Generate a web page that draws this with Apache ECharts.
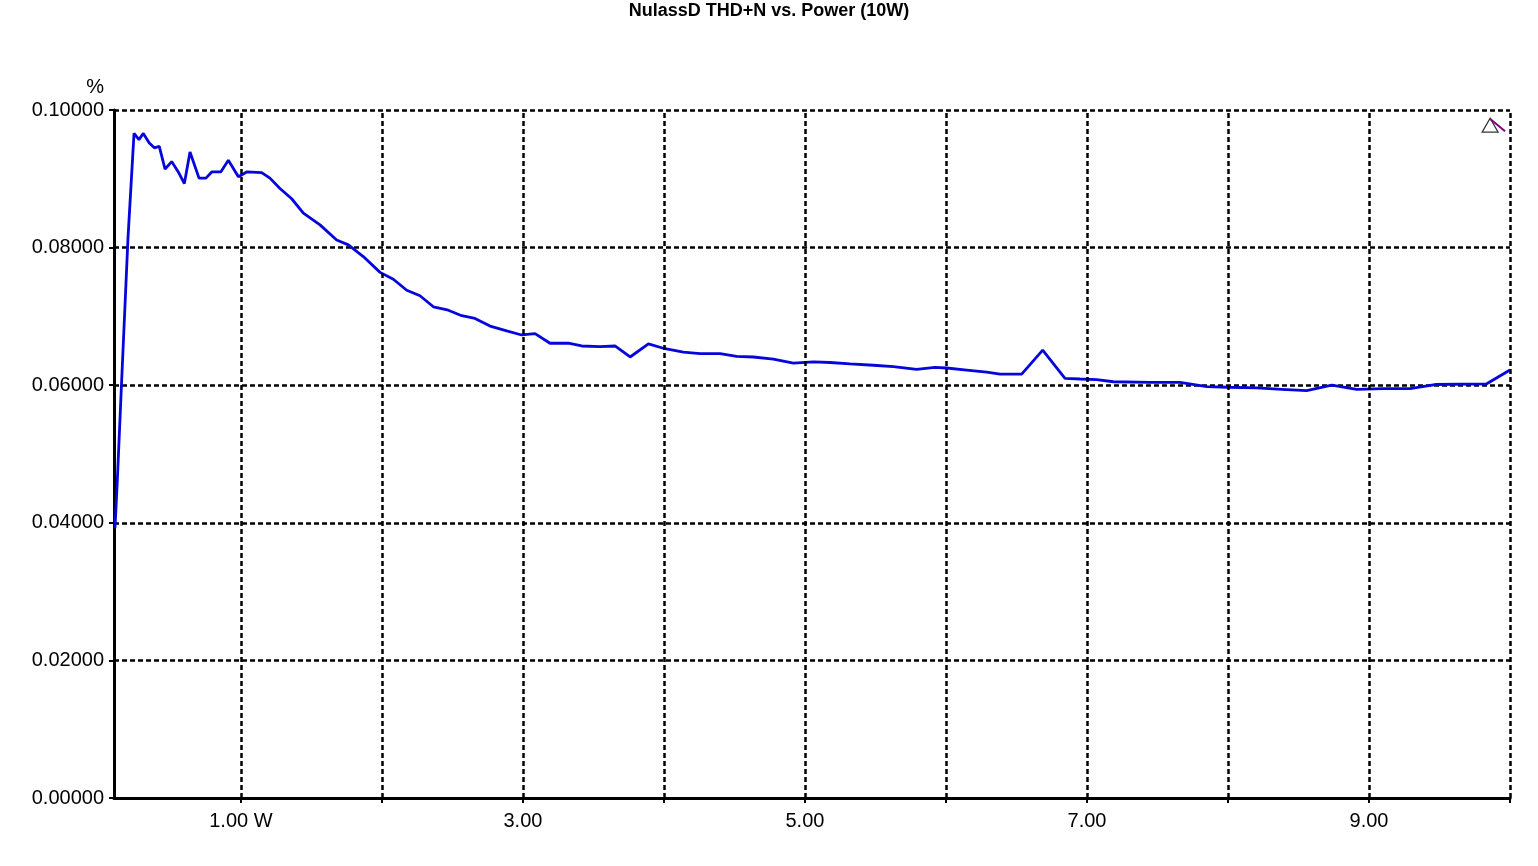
<!DOCTYPE html>
<html>
<head>
<meta charset="utf-8">
<style>
html,body{margin:0;padding:0;background:#fff;}
#c{width:1538px;height:866px;}
</style>
<script src="https://cdn.jsdelivr.net/npm/echarts@6/dist/echarts.min.js"></script>
</head>
<body>
<div id="c"></div>
<script>
const titleText = 'NulassD THD+N vs. Power (10W)';
const powerW = [0.107,0.123,0.152,0.199,0.242,0.277,0.308,0.350,0.386,0.421,0.462,0.509,0.556,0.599,0.639,0.703,0.752,0.793,0.857,0.911,0.982,1.041,1.147,1.206,1.277,1.360,1.443,1.561,1.679,1.762,1.868,1.987,2.081,2.176,2.270,2.365,2.471,2.566,2.660,2.767,2.885,2.991,3.086,3.192,3.322,3.417,3.547,3.653,3.760,3.890,4.008,4.138,4.256,4.398,4.516,4.634,4.776,4.918,5.060,5.178,5.320,5.485,5.627,5.792,5.922,6.005,6.147,6.289,6.384,6.537,6.686,6.844,6.951,7.069,7.187,7.448,7.660,7.850,8.003,8.204,8.381,8.558,8.736,8.913,9.102,9.291,9.468,9.835,10.0];
const thdPct = [0.0392,0.0459,0.0596,0.0813,0.0966,0.0957,0.0966,0.0952,0.0945,0.0947,0.0914,0.0925,0.0910,0.0893,0.0939,0.0901,0.0901,0.0910,0.0910,0.0927,0.0903,0.0910,0.0909,0.0901,0.0886,0.0871,0.0850,0.0833,0.0811,0.0804,0.0787,0.0764,0.0754,0.0738,0.0730,0.0714,0.0709,0.0701,0.0697,0.0686,0.0679,0.0673,0.0675,0.0661,0.0661,0.0657,0.0656,0.0657,0.0641,0.0660,0.0653,0.0648,0.0646,0.0646,0.0642,0.0641,0.0638,0.0632,0.0634,0.0633,0.0631,0.0629,0.0627,0.0623,0.0626,0.0625,0.0622,0.0619,0.0616,0.0616,0.0651,0.0610,0.0609,0.0608,0.0605,0.0604,0.0604,0.0598,0.0597,0.0596,0.0594,0.0592,0.0600,0.0594,0.0595,0.0595,0.0601,0.0602,0.0622];
const xGridValues = [1,2,3,4,5,6,7,8,9,10];
const xLabelValues = [1,3,5,7,9];
const cursorPoint = [9.859, 0.0978];
const cursorLine = [[9.86, 0.0987],[9.965, 0.0969]];

const data = powerW.map((x,i)=>[x, thdPct[i]]);
const dash = {color:'#000', width:2.5, type:[5,3]};
const font = 'Liberation Sans, Arial, sans-serif';

const chart = echarts.init(document.getElementById('c'));
chart.setOption({
  animation:false,
  backgroundColor:'#fff',
  title:{text:titleText,left:'center',top:2,padding:0,textStyle:{fontFamily:font,fontSize:18,fontWeight:'bold',color:'#000'}},
  grid:{left:114,right:28,top:110,bottom:68,containLabel:false},
  xAxis:{
    type:'value',min:0.1,max:10,
    axisLine:{show:true,lineStyle:{color:'#000',width:3}},
    axisTick:{show:true,customValues:xGridValues,length:5,lineStyle:{color:'#000',width:2}},
    axisLabel:{customValues:xLabelValues,margin:13,fontFamily:font,fontSize:20,color:'#000',
      formatter:v=> v===1 ? '1.00 W' : v.toFixed(2)},
    splitLine:{show:false}
  },
  yAxis:{
    type:'value',min:0,max:0.1,interval:0.02,
    name:'%',nameLocation:'end',nameGap:13,
    nameTextStyle:{fontFamily:font,fontSize:20,color:'#000',align:'right',padding:[0,10,0,0]},
    axisLine:{show:true,lineStyle:{color:'#000',width:3}},
    axisTick:{show:true,length:5,lineStyle:{color:'#000',width:2}},
    axisLabel:{margin:10,fontFamily:font,fontSize:20,color:'#000',formatter:v=>v.toFixed(5)},
    splitLine:{show:true,lineStyle:dash}
  },
  series:[
    {
      type:'line',data:data,symbol:'none',showSymbol:false,
      lineStyle:{color:'#0505dc',width:2.8},
      markLine:{silent:true,symbol:'none',label:{show:false},lineStyle:dash,
        data:xGridValues.map(v=>({xAxis:v}))},
      z:3
    },
    {
      type:'scatter',data:[cursorPoint],symbol:'triangle',symbolSize:[16,14],
      itemStyle:{color:'#fff',borderColor:'#000',borderWidth:1.2},z:4
    },
    {
      type:'line',data:cursorLine,symbol:'none',lineStyle:{color:'#800080',width:2},z:5
    }
  ]
});
</script>
</body>
</html>
